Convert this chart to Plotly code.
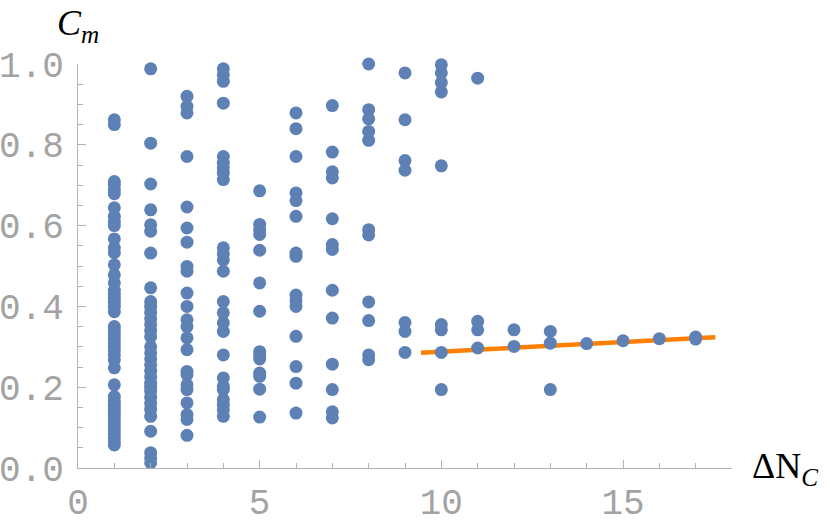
import plotly.graph_objects as go

# Data: C_m values read for each ΔN_C column
cm_dn1 = [0.862, 0.850, 0.709, 0.701, 0.689, 0.679, 0.644, 0.623, 0.610, 0.600, 0.567,
          0.545, 0.533, 0.503, 0.478, 0.458, 0.440, 0.430, 0.420, 0.410, 0.400, 0.387,
          0.350, 0.340, 0.330, 0.320, 0.310, 0.300, 0.290, 0.280, 0.268, 0.248, 0.206,
          0.177, 0.165, 0.155, 0.145, 0.135, 0.125, 0.115, 0.105, 0.095, 0.085, 0.075,
          0.065, 0.057]
cm_dn2 = [0.988, 0.804, 0.703, 0.639, 0.602, 0.586, 0.532, 0.446, 0.412, 0.400, 0.385,
          0.370, 0.355, 0.340, 0.325, 0.300, 0.285, 0.270, 0.255, 0.240, 0.225, 0.210,
          0.200, 0.190, 0.175, 0.160, 0.145, 0.128, 0.091, 0.038, 0.025, 0.013]
cm_dn3 = [0.920, 0.895, 0.879, 0.771, 0.646, 0.594, 0.559, 0.499, 0.487, 0.433, 0.400,
          0.367, 0.350, 0.322, 0.293, 0.239, 0.231, 0.206, 0.194, 0.161, 0.132, 0.120,
          0.081]
cm_dn4 = [0.988, 0.973, 0.957, 0.903, 0.771, 0.755, 0.743, 0.730, 0.714, 0.545, 0.530,
          0.515, 0.487, 0.412, 0.384, 0.359, 0.338, 0.280, 0.223, 0.202, 0.194, 0.169,
          0.157, 0.144, 0.128]
cm_dn5 = [0.686, 0.603, 0.590, 0.578, 0.539, 0.458, 0.388, 0.288, 0.278, 0.270, 0.235,
          0.227, 0.195, 0.126]
cm_dn6 = [0.879, 0.840, 0.771, 0.681, 0.662, 0.623, 0.532, 0.524, 0.428, 0.414, 0.400,
          0.326, 0.251, 0.210, 0.136]
cm_dn7 = [0.897, 0.782, 0.733, 0.718, 0.617, 0.553, 0.541, 0.440, 0.371, 0.257, 0.194,
          0.139, 0.124]
cm_dn8 = [1.000, 0.887, 0.864, 0.833, 0.811, 0.590, 0.577, 0.411, 0.365, 0.280, 0.268]
cm_dn9 = [0.978, 0.862, 0.761, 0.737, 0.360, 0.338, 0.286]
cm_dn10 = [0.998, 0.978, 0.954, 0.931, 0.748, 0.355, 0.342, 0.286, 0.194]
cm_dn11 = [0.965, 0.363, 0.342, 0.297]
cm_dn12 = [0.342, 0.301]
cm_dn13 = [0.338, 0.309, 0.194]
cm_dn14 = [0.308]
cm_dn15 = [0.315]
cm_dn16 = [0.320]
cm_dn17 = [0.324, 0.319]

columns = [cm_dn1, cm_dn2, cm_dn3, cm_dn4, cm_dn5, cm_dn6, cm_dn7, cm_dn8, cm_dn9,
           cm_dn10, cm_dn11, cm_dn12, cm_dn13, cm_dn14, cm_dn15, cm_dn16, cm_dn17]

# Fit line endpoints
fit_x = [9.44, 17.54]
fit_y = [0.2855, 0.3235]

x_ticks = [0, 5, 10, 15]
y_ticks = [0.0, 0.2, 0.4, 0.6, 0.8, 1.0]

pts_x, pts_y = [], []
for k, col in enumerate(columns, start=1):
    pts_x += [k] * len(col)
    pts_y += col

fig = go.Figure()
fig.add_trace(go.Scatter(x=fit_x, y=fit_y, mode="lines",
                         line=dict(color="#FF8000", width=4.5), hoverinfo="skip"))
fig.add_trace(go.Scatter(x=pts_x, y=pts_y, mode="markers", cliponaxis=False,
                         marker=dict(color="#5E81B5", size=13, line=dict(width=0))))

axis_gray = "#b3b3b3"
label_font = dict(family="Liberation Mono", size=36, color="#a3a3a3")

fig.update_xaxes(range=[0, 18], showline=True, linecolor=axis_gray, linewidth=1,
                 showgrid=False, zeroline=False, ticks="inside", ticklen=8,
                 tickcolor=axis_gray, tickvals=x_ticks, tickfont=label_font,
                 minor=dict(ticks="inside", ticklen=5, tickcolor=axis_gray, dtick=1,
                            tick0=0, showgrid=False),
                 ticklabelstandoff=2, automargin=False)
fig.update_yaxes(range=[0, 1], showline=True, linecolor=axis_gray, linewidth=1,
                 showgrid=False, zeroline=False, ticks="inside", ticklen=8,
                 tickcolor=axis_gray, tickvals=y_ticks, tickformat=".1f",
                 tickfont=label_font,
                 minor=dict(ticks="inside", ticklen=5, tickcolor=axis_gray, dtick=0.05,
                            tick0=0, showgrid=False),
                 ticklabelstandoff=6, automargin=False)

fig.add_annotation(xref="paper", yref="paper", x=0.0, y=1.035, xanchor="center",
                   yanchor="bottom", showarrow=False,
                   text="<i>C</i><sub><i>m</i></sub>",
                   font=dict(family="Liberation Serif", size=36, color="black"))
fig.add_annotation(xref="paper", yref="paper", x=1.027, y=0.0, xanchor="left",
                   yanchor="middle", showarrow=False,
                   text="ΔN<sub><i>C</i></sub>",
                   font=dict(family="Liberation Serif", size=36, color="black"))

fig.update_layout(width=830, height=524, showlegend=False,
                  plot_bgcolor="white", paper_bgcolor="white",
                  margin=dict(l=78, r=98, t=64, b=56))

fig.write_html("out.html", config={"displayModeBar": False},
               post_script="document.body.style.margin='0';document.body.style.padding='0';")
